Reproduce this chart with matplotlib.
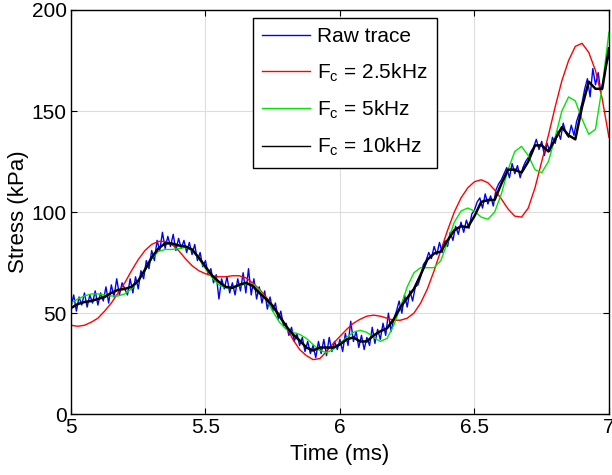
"""Raw stress trace vs. low-pass filtered versions at three cut-off frequencies."""
import matplotlib
matplotlib.use("Agg")
import matplotlib.pyplot as plt
import numpy as np

plt.rcParams["font.family"] = ["Liberation Sans", "DejaVu Sans"]
plt.rcParams["mathtext.fontset"] = "custom"
plt.rcParams["mathtext.rm"] = "Liberation Sans"
plt.rcParams["mathtext.it"] = "Liberation Sans"

# --- data -------------------------------------------------------------------
# raw trace, sampled every 0.01 ms from 5.00 to 7.00 ms
T_RAW = np.round(np.arange(5.0, 7.0001, 0.01), 3)
RAW = [
    53, 59, 51, 58, 54, 60, 53, 59, 55, 61,
    54, 60, 56, 63, 55, 64, 58, 67, 59, 65,
    62, 59, 67, 60, 68, 62, 71, 67, 76, 72,
    81, 76, 86, 81, 90, 82, 88, 83, 89, 81,
    87, 82, 86, 80, 85, 79, 84, 76, 80, 73,
    76, 69, 72, 65, 69, 57, 67, 62, 68, 60,
    65, 59, 67, 61, 70, 60, 72, 59, 67, 57,
    63, 55, 61, 52, 58, 51, 55, 47, 51, 44,
    45, 39, 43, 36, 40, 34, 38, 31, 36, 30,
    34, 28, 36, 30, 37, 29, 38, 31, 36, 32,
    37, 31, 40, 34, 46, 36, 41, 33, 39, 32,
    38, 34, 43, 35, 42, 37, 45, 39, 50, 41,
    47, 51, 56, 50, 59, 53, 61, 56, 63, 64,
    68, 74, 76, 80, 77, 83, 79, 85, 80, 86,
    83, 90, 86, 93, 89, 95, 90, 96, 92, 99,
    101, 105, 107, 102, 109, 104, 108, 103, 111, 114,
    116, 119, 122, 117, 124, 119, 123, 117, 122, 125,
    127, 130, 132, 136, 131, 135, 128, 134, 130, 137,
    134, 140, 136, 144, 139, 137, 143, 138, 145, 149,
    154, 161, 166, 157, 171, 163, 169, 159, 166, 173,
    177,
]

# filtered traces, sampled every 0.025 ms from 5.00 to 7.00 ms
T_FILT = np.round(np.arange(5.0, 7.0001, 0.025), 3)
FC_2_5 = [
    44, 43.5, 44, 45.5, 47.5, 51, 55, 60, 65, 71,
    76.5, 81, 84, 85.5, 85.5, 84, 81, 77, 73.5, 71,
    69.5, 68.5, 68, 68, 68.5, 68.5, 67.5, 65, 62, 58,
    54, 49, 43.5, 37, 32, 29, 27, 27.5, 31, 35,
    38.5, 42, 45, 47, 48.5, 49, 48.5, 47.5, 46.5, 46.5,
    47.5, 50, 55, 62, 71, 81, 91, 100, 107, 112,
    115, 116, 114.5, 111, 106.5, 101.5, 98, 97.5, 102, 112,
    125, 138, 152, 165, 175, 182, 183.5, 179, 170, 156,
    137,
]
FC_5 = [
    55, 57, 58.5, 59.5, 59.5, 59, 58.5, 58.5, 59.5, 62,
    66, 71, 77, 80.5, 81.5, 81.5, 82, 82.5, 81, 77,
    72, 67.5, 64, 62.5, 62.5, 63.5, 64.5, 64.5, 61.5, 57,
    51, 45.5, 42, 40.5, 39.5, 37.5, 34.5, 31.5, 30.5, 32,
    35, 38, 40.5, 41.5, 40.5, 38, 36, 37.5, 44, 53,
    63, 70, 72.5, 72.5, 72.5, 76, 85, 95, 100.5, 102,
    100.5, 97.5, 96.5, 100, 109, 121, 130, 132.5, 128, 121,
    119.5, 125, 137, 150, 157, 155, 146, 138.5, 141, 162,
    189,
]
FC_10 = [
    52.5, 54.5, 55.5, 56, 57, 58, 60, 61.5, 62, 63,
    66, 71.5, 77.5, 82, 84.5, 84.5, 83.5, 83, 81.5, 77.5,
    73, 68.5, 65.5, 63, 62.5, 64, 65, 63.5, 60, 57,
    53.5, 48.5, 43.5, 39.5, 36.5, 33, 31.5, 33, 33, 33,
    34.5, 37, 38, 36, 36, 39, 41, 42.5, 47, 53,
    57.5, 62, 69, 76.5, 79.5, 80.5, 86, 91, 93, 92.5,
    98, 105, 106, 106, 114, 121, 121, 119.5, 125, 133,
    133, 130, 136, 142, 138, 136, 152, 164.5, 161, 161,
    181,
]

LABELS = ["Raw trace", r"F$_{\mathrm{c}}$ = 2.5kHz",
          r"F$_{\mathrm{c}}$ = 5kHz", r"F$_{\mathrm{c}}$ = 10kHz"]

# --- figure -----------------------------------------------------------------
fig = plt.figure(figsize=(6.12, 4.75), dpi=100)
ax = fig.add_axes([0.116, 0.128, 0.879, 0.851])

ax.plot(T_RAW, RAW, color="#0000ff", lw=1.0, label=LABELS[0])
ax.plot(T_FILT, FC_2_5, color="#ff0000", lw=1.0, label=LABELS[1])
ax.plot(T_FILT, FC_5, color="#00e600", lw=1.0, label=LABELS[2])
ax.plot(T_FILT, FC_10, color="black", lw=1.8, label=LABELS[3])

ax.set_xlim(5, 7)
ax.set_ylim(0, 200)
ax.set_xticks([5, 5.5, 6, 6.5, 7])
ax.set_xticklabels(["5", "5.5", "6", "6.5", "7"])
ax.set_yticks([0, 50, 100, 150, 200])
ax.grid(True, color="#dddddd", lw=0.8)
ax.set_axisbelow(True)
ax.tick_params(direction="in", top=True, right=True, labelsize=15, length=4, pad=3)
for s in ax.spines.values():
    s.set_linewidth(1.0)
ax.set_xlabel("Time (ms)", fontsize=16, labelpad=5)
ax.set_ylabel("Stress (kPa)", fontsize=16, labelpad=2)

leg = ax.legend(loc="upper left", bbox_to_anchor=(0.338, 0.98), fontsize=15,
                fancybox=False, framealpha=1, edgecolor="black",
                handlelength=2.3, handletextpad=0.35, borderpad=0.45,
                labelspacing=0.72, borderaxespad=0)
leg.get_frame().set_linewidth(1.0)
for h in leg.get_lines():
    h.set_linewidth(1.0)

fig.savefig("out.png", dpi=100)
